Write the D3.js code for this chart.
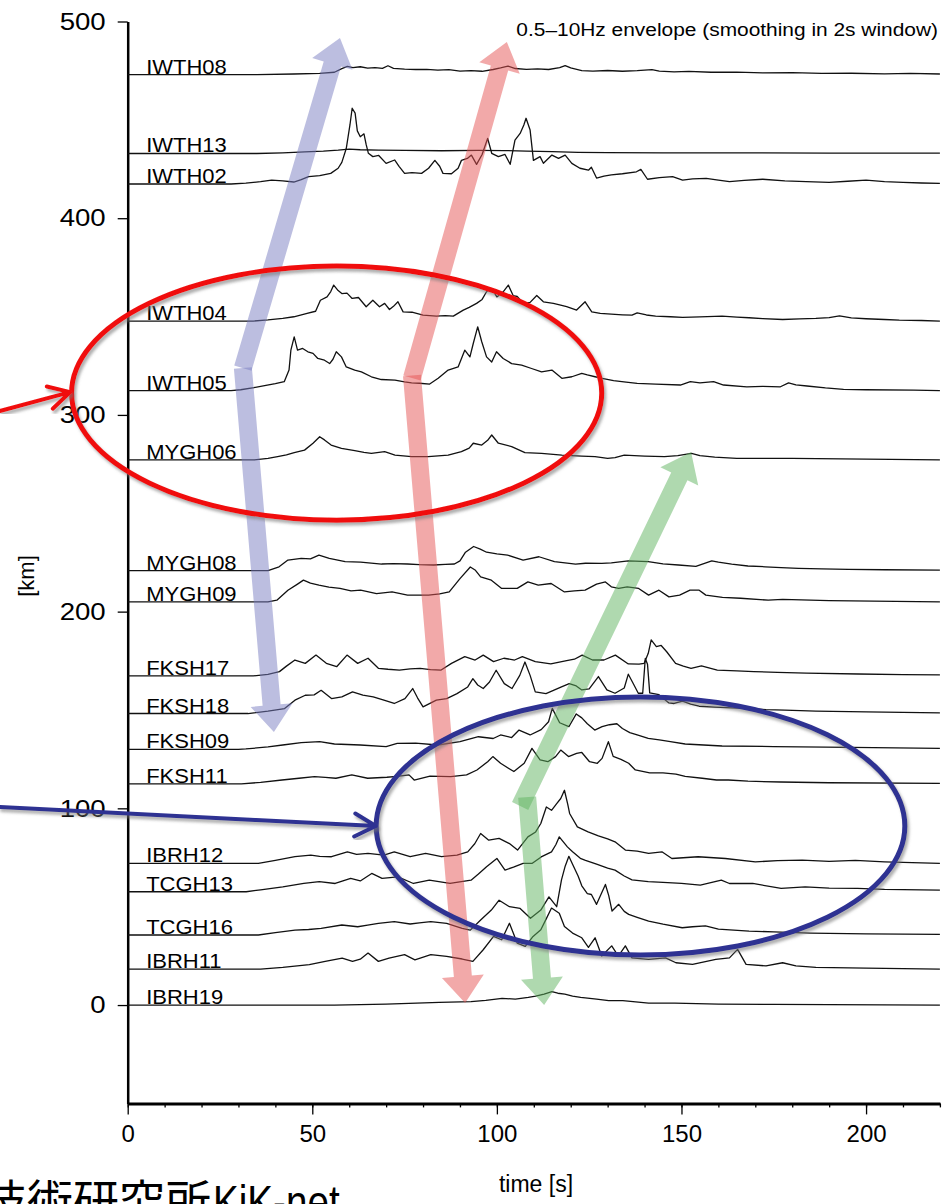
<!DOCTYPE html>
<html><head><meta charset="utf-8">
<script src="https://cdn.jsdelivr.net/npm/d3@7"></script>
<style>body{margin:0;background:#fff}svg{display:block}</style>
</head><body>
<svg id="chart" width="943" height="1204"></svg>
<script>
// Envelope of each station: [time (s), amplitude above the station baseline (km units)]
const IWTH08 = [[0,0],[35,0],[45,0.3],[52,0.6],[56,1.2],[58,3],[59.5,4.2],[61,3.6],[63,4],[65,3.3],[67,3.6],[69,3.2],[70.5,4.5],[72,3.2],[75,2.8],[78,2.6],[81,2.7],[84,2.3],[87,2.5],[90,1.8],[93,2],[96,1.7],[99,2.6],[101,3.4],[103,4.3],[105,3.1],[108,2.7],[111,2.9],[114,2.6],[117,3.6],[118.5,4.6],[120,3.4],[123,2],[126,1.8],[130,2.1],[134,1.7],[138,2],[142,2.5],[144,1.8],[148,1.4],[152,1.6],[158,1.2],[165,1.3],[172,0.9],[180,1],[188,0.6],[196,0.7],[205,0.4],[212,0.6],[220,0.3]];
const IWTH13 = [[0,0],[35,0],[42,0.3],[48,0.8],[53,1.2],[57,1.7],[60,2.2],[63,1.9],[68,1.7],[75,1.6],[85,1.4],[95,1.6],[102,1.5],[108,1.2],[115,0.9],[122,0.6],[130,0.4],[145,0.3],[165,0.3],[190,0.2],[220,0.2]];
const IWTH02 = [[0,0],[28,0],[32,0.4],[36,1.2],[39,2],[42,1.6],[45,1],[47,2.2],[49,3.7],[52,4.2],[55,5.4],[57,8],[58,11],[59.2,18],[60.2,30],[60.8,38.5],[61.6,36],[62.2,27],[63,24],[64,25.5],[64.6,20],[65.2,15.6],[66.4,13.9],[68,14.5],[70,10.5],[72.3,12.2],[73.5,9],[75,5.4],[77,5.8],[79.6,5.4],[81.5,8],[83.2,12],[84.5,9],[85.4,5.4],[87.7,5.2],[89.5,8],[90.4,12],[92,13],[93.1,14.7],[94.5,10],[96,15],[97.5,23.2],[98.6,15.6],[100.4,13.9],[102.2,15],[103.6,10],[104.9,22.3],[106.3,25.7],[107.3,30],[107.9,33.4],[109,27.4],[109.9,12],[111.7,13.9],[112.6,10.5],[114.9,14.7],[116.7,13],[118.5,14.7],[120.3,10.5],[122.5,8],[124.8,7],[125.6,8.5],[127,3],[129,4],[131,4.6],[134,5.2],[137.8,6.2],[139,7.4],[140.8,2.4],[144,3.2],[147.6,3.7],[150.3,2],[153,2.6],[156.7,2.9],[160,2],[163,1.2],[167,1.8],[172,2.4],[178,1.6],[183.8,1.2],[190,0.8],[195,1.4],[200,2],[205,1.2],[210,0.8],[215,0.5],[220,0.3]];
const IWTH04 = [[0,0],[34,0],[38,0.6],[42,1.4],[45,2.2],[48.6,3.9],[50.9,5],[52.2,10.6],[54,12.3],[55,15],[55.8,18.3],[57,15.5],[58,14],[59.4,14.2],[60.8,11.5],[62.5,12],[64.6,7.3],[66.4,10.6],[68.2,7.3],[69.6,9],[70.9,5.9],[72,7.5],[73.2,9.8],[74.6,4.7],[77,4.5],[80,3],[83.6,2.5],[86,2.8],[88.2,2.5],[90.9,5.6],[92.5,7],[94.5,9],[96,11],[97.2,14.9],[98.6,16.6],[100,12.3],[101.7,14.9],[103.1,18.3],[104.4,13],[105.5,12.5],[107.2,9],[109,9.5],[110.8,13],[112.6,9.8],[115.3,9],[117,8.2],[118.9,7.3],[121.6,5.6],[123.9,9.8],[125.7,4.7],[128,3.9],[131,3.5],[134,3.2],[136.6,3],[138,4.2],[140.5,3.1],[143,2.5],[147,2.2],[150.3,1.9],[155,2.1],[161,2.5],[165,2],[168.3,1.7],[172,1.3],[177.4,0.8],[182,1.1],[186.4,1.4],[190,1.8],[192.8,2.7],[196,1.6],[200,1.2],[205,0.8],[209,0.5],[215,0.3],[220,0]];
const IWTH05 = [[0,0],[28,0],[30.6,0.5],[34.2,1.6],[37.8,2.9],[40,3.6],[42.4,4.6],[43.7,10.5],[44.2,20.6],[45.1,27.4],[46,20.6],[47.4,21.5],[48.8,19.8],[50.2,19],[51.5,16.4],[53.3,15.5],[54.7,13.8],[55.6,16],[56.5,19.8],[57.9,17.2],[59.2,12.1],[61.5,10.5],[63.3,9.6],[66,7.1],[68.7,5.7],[72.4,5.4],[75,4.5],[76.9,4],[79,3.8],[81.8,3.4],[84.1,6.3],[86.8,10.5],[89.5,12.1],[91.3,20.6],[92.7,17.2],[93.6,24],[94.8,32.5],[95.9,24.9],[97.2,17.2],[98.6,14.6],[99.9,19.8],[101.7,16.4],[104,13.8],[106.7,13],[109.4,11.3],[112.1,9.6],[114.9,10.5],[117.6,6.3],[120.3,7.1],[123,8.8],[124.5,8],[126.6,7.1],[128.5,6.3],[131.6,5.1],[135,4.4],[138,3.7],[143,3.4],[149.7,2.9],[152.4,4.6],[155,4],[158.7,4.6],[161.4,2.9],[167.7,2],[172,2.2],[176.8,2],[179,4],[181,3],[184,2.4],[189,1.4],[193.9,0.7],[200,0.5],[212.9,0.3],[220,0]];
const MYGH06 = [[0,0],[34.3,0],[38,0.8],[40.6,1.7],[43,2.6],[45.1,3.7],[47.9,5],[50.2,8.5],[52,11.8],[53.3,10.2],[55.1,7.6],[57.9,5.9],[61.5,4.7],[64,3.9],[66,3.4],[69.6,4.2],[72.4,2.5],[76.9,1.7],[81.4,1.7],[86.8,2.5],[90.4,4.2],[92.5,6],[93.6,8.5],[95.9,7.6],[97.5,10],[98.6,12.7],[100.4,8.5],[104,6.8],[107.6,3.7],[112.1,3.4],[117.6,2.5],[123,2],[126.6,1.7],[130,0.8],[132,1.2],[134.5,2.5],[140,2],[145.4,1.7],[149,2.2],[152.7,3.4],[155,2.2],[159,1.4],[165,0.8],[180,0.8],[200,0.4],[220,0]];
const MYGH08 = [[0,0],[38,0],[41,2],[43.4,5.4],[47,6.3],[49.5,6],[51.8,7.9],[54.6,6.3],[58.9,4.6],[63.1,4.4],[68.8,3.4],[72,3.6],[75.8,3.4],[79,3.1],[82.9,2.9],[86,3.2],[88.5,3.4],[90,5],[91.5,9.4],[93.7,12.3],[95.5,11],[97.2,9.4],[100,8.6],[102.9,7.9],[107.1,5.4],[111.4,7.1],[115.6,4.6],[121.3,3.4],[124,3.8],[128.4,3.7],[131,4],[135.6,5],[141,4.6],[145,3.5],[149.2,2.9],[153.9,2.2],[158.2,5],[160,4.4],[163.6,3.4],[168,2.4],[172.7,2],[177,1.6],[181.7,1.2],[188,0.9],[195.2,0.7],[205,0.5],[220,0.3]];
const MYGH09 = [[0,0],[38,0],[40.4,0.8],[43.4,5.9],[46,9],[47.6,11],[49.5,9.5],[51.8,8.5],[54.5,7.5],[57.5,6.8],[60.5,5.5],[63.1,5.9],[67.4,4.2],[71.6,5],[75.8,3.4],[81.5,3.4],[84.5,4],[87.1,5],[90,11.8],[92.8,17.7],[94.2,16],[95.6,12.7],[98.5,11],[101.3,6.8],[105.5,6.8],[108.4,10.1],[111.2,8.5],[114.7,9.3],[118.3,5],[121,5.5],[123.9,5.9],[127,9],[129.4,10.1],[131,7.6],[133,6.8],[135.3,7.6],[138.4,6.8],[141.1,3.4],[143.9,5.9],[146.6,2.5],[149.5,3.4],[152.3,5.9],[154.8,5.9],[156.6,3.4],[161.1,2.2],[166,1.8],[173.5,0.8],[177.4,1.2],[190,0.6],[220,0]];
const FKSH17 = [[0,0],[34,0],[38,0.8],[41.1,2.2],[43,5],[45.3,8.1],[48.1,6.4],[51,10.6],[53.8,6.4],[56.6,4.7],[59.4,10.6],[62.3,6.4],[65.1,9],[67.9,3.9],[70.5,3.4],[73.6,3],[76.5,3.6],[79.2,3.9],[82,3.2],[84.9,3],[87.7,6.4],[91.3,9.8],[94.1,8.1],[96.3,10.6],[99.1,7.3],[101.9,9],[104.8,8.1],[106.9,9.8],[110.4,7.3],[114.6,6.1],[118.9,7.8],[121,8.5],[123.1,10.6],[125.9,8.1],[129,8.1],[132.1,10.6],[135.6,6.1],[138.5,6],[139.9,6.4],[141,11.5],[141.8,18.3],[143.2,14.9],[144.5,15.5],[146,12.3],[148.4,6.4],[150.5,5],[152.6,3.9],[155.4,5.1],[159.7,3],[165,2.6],[169.6,2.2],[176,1.8],[183.8,1.4],[197.9,1],[210,0.7],[220,0.5]];
const FKSH18 = [[0,0],[32.6,0],[38,1.2],[42.5,2.5],[45.3,6.8],[48.1,9.3],[50.5,9.5],[52.4,11.8],[55.2,7.6],[58,8.5],[60.9,11],[63.7,9.3],[66.5,8.5],[69.4,6.8],[72.2,5.1],[75.1,7.6],[77.2,12.7],[78.5,8],[80,3.4],[83.6,6.8],[86.4,7.6],[89.2,10.1],[92.1,13.5],[93.5,17.7],[94.8,14.5],[96.3,12.7],[98,16],[99.8,22],[102,15.2],[104.1,12.7],[106.2,19.4],[107.6,26.2],[109,19.4],[110.4,11],[113.3,10.1],[117.5,13.5],[119.6,15.2],[121.5,14],[123,12],[125,12.5],[127.5,18.8],[129.8,12],[132,10.3],[134.5,13],[135.6,20],[137,15],[138.3,10.3],[139.5,10.3],[140.2,28],[140.8,25],[141.4,10.5],[143.9,9.6],[146.6,5.4],[148,5.1],[150.3,6.3],[152.5,4.8],[154.8,3.7],[159,3.3],[163.8,2.9],[168,2.5],[172.9,2],[178,1.7],[186.4,1.2],[200,0.8],[220,0.3]];
const FKSH09 = [[0,0],[30,0],[32,0.2],[38,1.2],[42,2.2],[47,3.4],[52,3.9],[56,2.7],[63,2.2],[70,1.4],[73,3],[78,3.2],[84,2.2],[90,3.9],[95,6.4],[99,5.5],[101,7.3],[104,6],[106,9.8],[109,7.3],[112,10],[114,14],[115,20.8],[117,13.5],[119.5,11.5],[121.5,18],[123,16],[124.5,13],[126.5,9.8],[128.5,11.5],[130.5,12.5],[132.5,13],[134,10.6],[136,8.5],[138,7.3],[141,5.6],[144,4.8],[147,3.9],[151,2.7],[156,2.2],[161,1.7],[175,1.4],[196,1],[220,0.5]];
const FKSH11 = [[0,0],[30.8,0],[36,0.8],[41.8,2],[46.4,2.9],[50.6,3.7],[53.5,3.3],[56.4,2.9],[60.7,4.6],[65,2.9],[70.2,3.4],[73,3.9],[76.2,4.6],[77.6,2],[81.9,4],[87.5,3.7],[91.8,4.6],[94.6,7.1],[97.5,11.3],[98.9,13.9],[101,10.5],[104.6,6.3],[107.4,10.5],[109.5,18.1],[111.7,12.2],[113.8,11.3],[115.9,13.9],[117.3,17.2],[119.4,13.9],[121.6,15.5],[123,16],[125.1,11.3],[127.2,10.5],[128.5,13],[130.2,21.5],[131.5,14],[133.6,12.5],[135.7,10.5],[137.5,7.1],[141.4,5.6],[145,5.6],[148.5,5],[151,3.8],[155.6,2.9],[159.5,2],[162.7,2],[168,1.4],[176.9,1],[190,0.6],[220,0.3]];
const IBRH12 = [[0,0],[35.4,0],[40,1.5],[45.3,3.4],[49.6,4.2],[52,3.6],[55.2,3.4],[59.5,5.9],[62,4.6],[65.1,5.1],[69.4,4.2],[72.2,5.9],[76.5,3.4],[80.7,5.1],[85,3.4],[89.2,4.2],[92.1,5.9],[94,10],[95.6,15.2],[97.8,11.8],[100.6,12.7],[103.4,10.1],[105.6,6.8],[108.4,13.5],[110.5,16],[111.9,20.3],[113.4,28.7],[114.8,27],[116.2,30.4],[117.3,33],[118.3,37.2],[119.2,30],[119.7,25.4],[121.8,18.6],[124.7,16],[127.5,14],[130,12.5],[132,11],[134.8,6.8],[138,6.2],[141.1,5.1],[144.7,5.9],[147.4,2.5],[154.5,3.4],[161.9,2.5],[170,0.8],[176,1.4],[182.7,1.7],[190,1],[197.1,1.5],[205,0.8],[220,0]];
const TCGH13 = [[0,0],[32.1,0],[36,1],[42,2.5],[47.7,4.2],[51.9,5.1],[56.2,4.2],[60.4,6.8],[63,5.5],[66.1,9.3],[68.9,6.8],[73.2,7.6],[77.4,4.2],[81.7,5.9],[87.3,4.2],[93,5.9],[95,9],[97.2,12.7],[100,16.9],[102.2,11],[104.5,12.5],[107.1,14.4],[109.5,14.4],[112,17.7],[114.8,20.3],[116,24],[116.9,27.9],[119.1,22.8],[120.5,20.3],[122.6,17],[124,16],[127,14],[130,12],[132,11],[134.5,8],[136.6,6],[141,5.1],[145,4.8],[150,4.3],[155.1,3.4],[160.8,5.9],[163,4.2],[169.3,4.2],[177,1.7],[183.5,2.5],[190,1.8],[197.7,1.7],[205,1.2],[220,0.8]];
const TCGH16 = [[0,0],[35.4,0],[40,1.2],[45.3,2.5],[49,2.8],[52.4,3.4],[58,5.1],[62.3,4.2],[65,5],[67.9,5.9],[72.2,6.8],[76.5,5.6],[79,6.2],[82.1,6.8],[86.4,5.9],[90.6,3.4],[92.8,2.5],[95.6,7.6],[98.5,12.7],[100.6,17.7],[103.4,14.4],[106.3,13.5],[109.1,8.5],[111.9,12.7],[114.1,19.4],[116.2,14.4],[117.5,28],[118.5,35],[119.5,40],[120.5,36],[122,30],[123,25],[124.5,21],[125.6,20.6],[127,15.6],[129.4,25.7],[130.3,20],[131.2,12.2],[133,15.6],[134.5,12],[135.7,10.5],[138,9],[141.1,7.1],[145,5.5],[150.2,3.7],[153,4.2],[156.5,4.6],[160,3],[168.3,2],[175,1.6],[185,1],[200,0.6],[220,0.3]];
const IBRH11 = [[0,0],[36,0],[42,0.8],[49.2,2.2],[53.5,3.9],[58.1,5.6],[60.9,3.9],[63,5],[65.1,8.1],[67.9,3.9],[70.8,5.6],[75,7.3],[77.8,4.7],[82.1,7.3],[86.4,6.4],[90.6,5.1],[93.5,3.9],[96.3,9.8],[99.1,16.6],[101.3,14.9],[103.4,23.3],[105.5,13.2],[107.7,11.5],[109.8,16.6],[111.9,20],[113.5,26],[114.8,31],[116.9,28.4],[118.3,21.6],[120.5,18.3],[123,15.9],[124.8,11],[126.6,15.9],[128.4,6.6],[131.1,11.8],[132.9,6.6],[134.8,11.8],[136.6,5.7],[141.1,4.9],[145.7,5.7],[148.5,3.2],[153,2.4],[159.3,4.9],[163,5.7],[165.2,10],[167.5,2.4],[172.9,1.6],[177.4,3.2],[181,1.6],[186.4,0.8],[200,0.5],[220,0]];
const IBRH19 = [[0,0],[56,0],[70,0.5],[84.4,1.4],[93,1.7],[97,2.4],[101.4,3.4],[105,3],[108.5,3.9],[110.5,4.5],[112.8,5.6],[114.9,6.8],[116.5,6],[118.4,5.6],[120.5,4.5],[122.7,3.9],[127,3],[130.3,2.2],[134.1,2.2],[141.1,1],[148.2,1],[160,0.5],[175,0.3],[220,0]];

// Station names and their distances (km)
const stationNames = ["IWTH08","IWTH13","IWTH02","IWTH04","IWTH05","MYGH06","MYGH08","MYGH09","FKSH17","FKSH18","FKSH09","FKSH11","IBRH12","TCGH13","TCGH16","IBRH11","IBRH19"];
const stationDist  = [473.0, 432.9, 417.4, 347.7, 312.3, 277.1, 220.8, 205.0, 167.3, 148.2, 130.0, 112.4, 72.0, 57.6, 35.6, 18.3, 0];
const stationEnv   = [IWTH08, IWTH13, IWTH02, IWTH04, IWTH05, MYGH06, MYGH08, MYGH09, FKSH17, FKSH18, FKSH09, FKSH11, IBRH12, TCGH13, TCGH16, IBRH11, IBRH19];

// Axis ticks
const xMajorTicks = [0, 50, 100, 150, 200];
const xMinorTicks = [0,10,20,30,40,50,60,70,80,90,100,110,120,130,140,150,160,170,180,190,200,210,220];
const yTicks = [0, 100, 200, 300, 400, 500];

// Phase arrows: [time, km] start -> tip
const phaseArrows = [
  {phase:"P", from:[31.2, 323.8], to:[57.5, 491.6]},
  {phase:"P", from:[31.2, 323.8], to:[39.6, 138.8]},
  {phase:"S", from:[77.0, 318.8], to:[102.7, 489.6]},
  {phase:"S", from:[77.0, 320.0], to:[91.4, 1.0]},
  {phase:"L", from:[106.3, 101.2], to:[152.6, 281.1]},
  {phase:"L", from:[108.2, 105.7], to:[112.8, 0]}
];
// Highlight regions: centre [time, km], half-width (s), half-height (km)
const regions = [
  {id:"north", c:[56.6, 311.1], rt:71.8, rk:64.6},
  {id:"south", c:[138.9, 91.0], rt:71.6, rk:65.6}
];
const pointers = [
  {id:"north", from:[-34.6, 302.0], to:[-15.6, 311.6]},
  {id:"south", from:[-34.6, 100.7], to:[67.2, 91.0]}
];

const phaseColor = {P:"#7a7ec2", S:"#e65454", L:"#5fb35f"};
const regionColor = {north:"#f01010", south:"#2e3192"};

const svg = d3.select("#chart");
svg.append("rect").attr("width",943).attr("height",1204).attr("fill","#fff");

const x = d3.scaleLinear().domain([0,220]).range([127.7, 939.9]);
const y = d3.scaleLinear().domain([-50,500]).range([1103.4, 21.5]);

const defs = svg.append("defs");
const f = defs.append("filter").attr("id","shadow").attr("x","-10%").attr("y","-10%").attr("width","120%").attr("height","120%");
f.append("feDropShadow").attr("dx",2).attr("dy",3).attr("stdDeviation",1.6)
  .attr("flood-color","#777").attr("flood-opacity",0.6);

const font = "'Liberation Sans', Arial, Helvetica, sans-serif";

// Axes
const gx = svg.append("g").attr("transform",`translate(0,${y(-50)})`);
gx.call(d3.axisBottom(x).tickValues(xMinorTicks).tickSize(4).tickFormat("").tickSizeOuter(0));
gx.select(".domain").attr("stroke-width",3);
const gxm = svg.append("g").attr("transform",`translate(0,${y(-50)})`);
gxm.call(d3.axisBottom(x).tickValues(xMajorTicks).tickSize(11).tickPadding(11).tickSizeOuter(0));
gxm.select(".domain").remove();
gxm.selectAll("text").attr("font-family",font).attr("font-size",24).attr("fill","#000");
svg.selectAll(".tick line").attr("stroke","#000").attr("stroke-width",1.3);

const gy = svg.append("g").attr("transform",`translate(${x(0)},0)`);
gy.call(d3.axisLeft(y).tickValues(yTicks).tickSize(10).tickPadding(12).tickSizeOuter(0));
gy.select(".domain").attr("stroke-width",2.5);
gy.selectAll("line").attr("stroke-width",1.3);
gy.selectAll("text").attr("font-family",font).attr("font-size",24).attr("fill","#000")
  .each(function(){
    const tx = +this.getAttribute("x");
    this.setAttribute("x",0);
    this.setAttribute("transform",`translate(${tx},0) scale(1.15,1)`);
  });

// Traces
const line = d3.line().x(d => x(d[0]));
const traces = svg.append("g");
stationNames.forEach((name,i) => {
  const base = stationDist[i];
  traces.append("path")
    .attr("d", line.y(d => y(base + d[1]))(stationEnv[i]))
    .attr("fill","none").attr("stroke","#111").attr("stroke-width",1.3)
    .attr("stroke-linejoin","round");
  traces.append("text")
    .attr("transform",`translate(${x(5)},${y(base)-1}) scale(1.1,1)`)
    .attr("font-family",font).attr("font-size",20).attr("fill","#000")
    .text(name);
});

// Phase arrows
function arrowPoints(S, T) {
  const dx = T[0]-S[0], dy = T[1]-S[1], L = Math.hypot(dx,dy);
  const ux = dx/L, uy = dy/L, nx = -uy, ny = ux;
  const w = 9, hw = 21, hl = 27;
  const H = [T[0]-ux*hl, T[1]-uy*hl];
  return [
    [S[0]+nx*w, S[1]+ny*w], [H[0]+nx*w, H[1]+ny*w], [H[0]+nx*hw, H[1]+ny*hw], T,
    [H[0]-nx*hw, H[1]-ny*hw], [H[0]-nx*w, H[1]-ny*w], [S[0]-nx*w, S[1]-ny*w]
  ];
}
const arrows = svg.append("g");
phaseArrows.forEach(a => {
  const S = [x(a.from[0]), y(a.from[1])], T = [x(a.to[0]), y(a.to[1])];
  arrows.append("polygon")
    .attr("points", arrowPoints(S,T).map(p => p.join(",")).join(" "))
    .attr("fill", phaseColor[a.phase]).attr("fill-opacity",0.5);
});

// Highlight ellipses
regions.forEach(r => {
  svg.append("ellipse")
    .attr("cx", x(r.c[0])).attr("cy", y(r.c[1]))
    .attr("rx", x(r.c[0]+r.rt)-x(r.c[0])).attr("ry", y(r.c[1]-r.rk)-y(r.c[1]))
    .attr("fill","none").attr("stroke", regionColor[r.id]).attr("stroke-width",5)
    .attr("filter","url(#shadow)");
});

// Pointer arrows from the left margin
pointers.forEach(p => {
  const S = [x(p.from[0]), y(p.from[1])], T = [x(p.to[0]), y(p.to[1])];
  const ang = Math.atan2(T[1]-S[1], T[0]-S[0]);
  const len = 24, spread = 0.5;
  const a1 = [T[0]-len*Math.cos(ang-spread), T[1]-len*Math.sin(ang-spread)];
  const a2 = [T[0]-len*Math.cos(ang+spread), T[1]-len*Math.sin(ang+spread)];
  svg.append("path")
    .attr("d", `M${S[0]},${S[1]}L${T[0]},${T[1]}M${a1[0]},${a1[1]}L${T[0]},${T[1]}L${a2[0]},${a2[1]}`)
    .attr("fill","none").attr("stroke", regionColor[p.id]).attr("stroke-width",4)
    .attr("stroke-linecap","round").attr("stroke-linejoin","round")
    .attr("filter","url(#shadow)");
});

// Titles and labels
svg.append("text")
  .attr("transform","translate(938,36) scale(1.1,1)")
  .attr("text-anchor","end").attr("font-family",font).attr("font-size",19).attr("fill","#000")
  .text("0.5\u201310Hz envelope (smoothing in 2s window)");
svg.append("text")
  .attr("transform","translate(34,576) rotate(-90)")
  .attr("text-anchor","middle").attr("font-family",font).attr("font-size",22).attr("fill","#000")
  .text("[km]");
svg.append("text")
  .attr("x",536).attr("y",1192)
  .attr("text-anchor","middle").attr("font-family",font).attr("font-size",23).attr("fill","#000")
  .text("time [s]");
svg.append("text")
  .attr("x",211).attr("y",1218)
  .attr("text-anchor","end").attr("font-family","'Noto Sans CJK JP', sans-serif").attr("font-size",46).attr("fill","#000")
  .text("防災科学技術研究所");
svg.append("text")
  .attr("transform","translate(213,1218) scale(0.84,1)")
  .attr("font-family",font).attr("font-size",46).attr("fill","#000")
  .text("KiK-net");
</script>
</body></html>
